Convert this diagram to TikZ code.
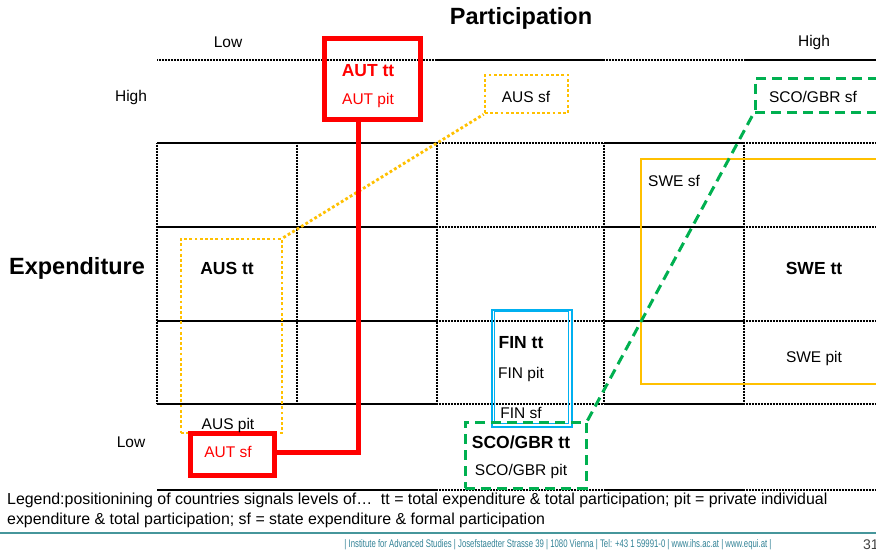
\documentclass[tikz,border=0pt]{standalone}
\usepackage{fontspec}
\setmainfont{Liberation Sans}
\usepackage{graphicx}
\definecolor{autred}{RGB}{255,0,0}
\definecolor{ausyel}{RGB}{255,192,0}
\definecolor{scogreen}{RGB}{0,176,80}
\definecolor{finblue}{RGB}{0,176,240}
\definecolor{footteal}{RGB}{50,130,150}
\definecolor{footline}{RGB}{70,150,155}
\begin{document}
\begin{tikzpicture}[x=1pt,y=-1pt,
  solidln/.style={line width=1.6pt, black},
  dotln/.style={line width=1.2pt, black, dash pattern=on 0.8pt off 0.7pt},
  txt/.style={font=\fontsize{15.5}{18}\selectfont, inner sep=0pt},
  btxt/.style={font=\fontsize{17.5}{20}\selectfont\bfseries, inner sep=0pt},
  bigtxt/.style={font=\fontsize{23.5}{27}\selectfont\bfseries, inner sep=0pt},
  redbox/.style={draw=autred, line width=5pt, inner sep=0pt},
  redline/.style={draw=autred, line width=5pt},
  ausbox/.style={draw=ausyel, line width=2.8pt, dash pattern=on 2.8pt off 2.4pt, inner sep=0pt},
  scobox/.style={draw=scogreen, line width=3pt, dash pattern=on 10pt off 6pt, inner sep=0pt},
  finbox/.style={draw=finblue, line width=1.6pt, inner sep=0pt},
  swebox/.style={draw=ausyel, line width=1.2pt, inner sep=0pt}
]
\useasboundingbox (0,0) rectangle (876,551);

% grid
\draw[dotln] (157,60) -- (437,60);
\draw[solidln] (437,60) -- (604,60);
\draw[dotln] (604,60) -- (744,60);
\draw[solidln] (744,60) -- (876,60);
\foreach \y in {143,227,321,404,490} {
  \draw[solidln] (157,\y) -- (437,\y);
  \draw[dotln] (437,\y) -- (604,\y);
  \draw[solidln] (604,\y) -- (744,\y);
  \draw[dotln] (744,\y) -- (876,\y);
}
\foreach \x in {157,297,437,604,744} \draw[dotln] (\x,143) -- (\x,404);

% axis labels
\node[bigtxt] (part) at (521,18) {Participation};
\node[txt] (plow) at (228,42) {Low};
\node[txt] (phigh) at (814,42) {High};
\node[txt] (ehigh) at (131,97) {High};
\node[txt] (elow) at (131,442) {Low};
\node[bigtxt] (expd) at (77,268) {Expenditure};

% boxes
\node[swebox, minimum width=259pt, minimum height=225pt] (swe) at (770.5,271.5) {};
\node[ausbox, minimum width=101pt, minimum height=194pt] (austt) at (231.5,336) {};
\node[ausbox, minimum width=83pt, minimum height=38pt] (aussf) at (526.5,94) {};
\node[finbox, minimum width=80pt, minimum height=117pt] (fin) at (532,368.5) {};
\draw[finbox] ([xshift=3.2pt,yshift=-2.4pt]fin.north west) rectangle ([xshift=-4.2pt,yshift=4.2pt]fin.south east);
\node[scobox, minimum width=121pt, minimum height=66pt] (scott) at (525.5,455) {};
\node[scobox, minimum width=125pt, minimum height=33pt] (scosf) at (817.5,95.5) {};
\node[redbox, minimum width=96pt, minimum height=80pt] (auttt) at (372,79) {};
\node[redbox, minimum width=84pt, minimum height=42pt] (autsf) at (232,454) {};

% connectors
\draw[ausbox] (austt.north east) -- (aussf.south west);
\draw[scobox] (scott.north east) -- (scosf.south west);
\draw[redline] ([xshift=-14pt]auttt.south) |- ([yshift=2pt]autsf.east);

% texts
\node[btxt, text=autred] (t1) at (368,71) {AUT tt};
\node[txt, text=autred] (t2) at (368,100) {AUT pit};
\node[txt] (t3) at (526,97) {AUS sf};
\node[txt] (t4) at (813,97) {SCO/GBR sf};
\node[txt] (t5) at (674,181) {SWE sf};
\node[btxt] (t6) at (227,268) {AUS tt};
\node[btxt] (t7) at (814,268) {SWE tt};
\node[btxt] (t8) at (521,343) {FIN tt};
\node[txt] (t9) at (521,374) {FIN pit};
\node[txt] (t10) at (521,413) {FIN sf};
\node[txt] (t11) at (814,358) {SWE pit};
\node[txt] (t12) at (228,425) {AUS pit};
\node[txt, text=autred] (t13) at (228,452) {AUT sf};
\node[btxt] (t14) at (521,442) {SCO/GBR tt};
\node[txt] (t15) at (521,471) {SCO/GBR pit};

% legend
\node[anchor=north west, align=left, inner sep=0pt, font=\fontsize{15.9}{20}\selectfont] (legend) at (7,492.5)
  {Legend:positionining of countries signals levels of…\ \ tt = total expenditure \& total participation; pit = private individual\\
   expenditure \& total participation; sf = state expenditure \& formal participation};

% footer
\draw[footline, line width=1.5pt] (0,533) -- (876,533);
\node[inner sep=0pt, text=footteal, font=\fontsize{11}{13}\selectfont] (foot) at (558,545)
  {\resizebox{427pt}{\height}{| Institute for Advanced Studies | Josefstaedter Strasse 39 | 1080 Vienna | Tel: +43 1 59991-0 | www.ihs.ac.at | www.equi.at |}};
\node[anchor=west, inner sep=0pt, text=black!75, font=\fontsize{14}{16}\selectfont] (pnum) at (863,545) {31};
\end{tikzpicture}
\end{document}
